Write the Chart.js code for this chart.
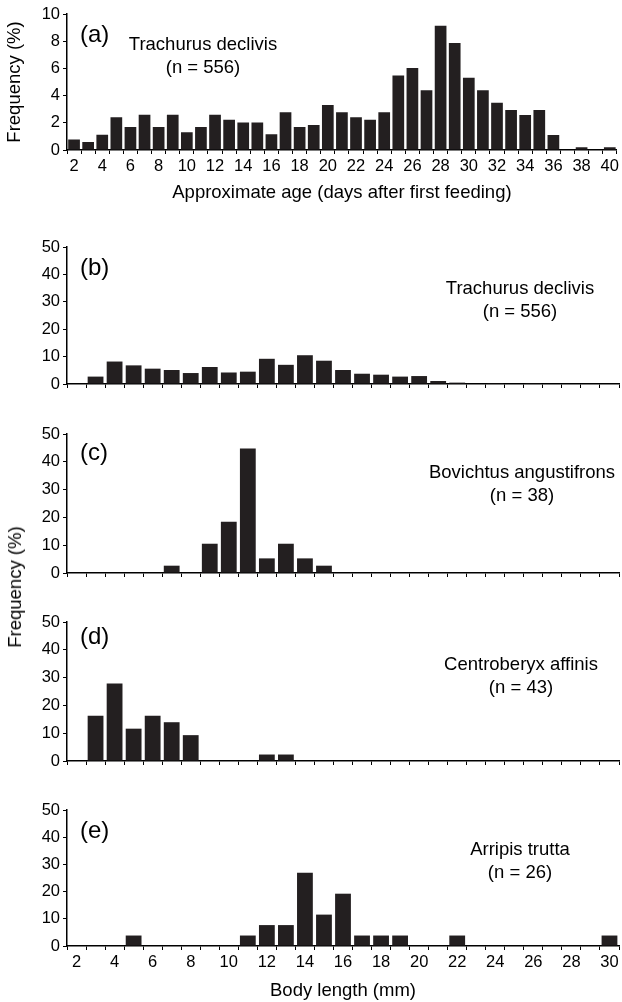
<!DOCTYPE html>
<html>
<head>
<meta charset="utf-8">
<script src="https://cdn.jsdelivr.net/npm/chart.js@4.4.1/dist/chart.umd.min.js"></script>
<style>
    body { margin: 0; background: #fff; }
    #marco { position: relative; width: 622px; height: 1002px; }
    canvas { position: absolute; left: 0; }
    #tituloFrecuencia {
        position: absolute; left: 15px; top: 587px;
        transform: translate(-50%, -50%) rotate(-90deg);
        font: 18.5px "Liberation Sans", Arial, sans-serif;
        white-space: nowrap; color: #000;
    }
</style>
</head>
<body>
<div id="marco">
    <canvas id="panelA" width="622" height="210" style="top:0px"></canvas>
    <canvas id="panelB" width="622" height="168" style="top:232px"></canvas>
    <canvas id="panelC" width="622" height="170" style="top:419px"></canvas>
    <canvas id="panelD" width="622" height="170" style="top:607px"></canvas>
    <canvas id="panelE" width="622" height="207" style="top:795px"></canvas>
    <div id="tituloFrecuencia">Frequency (%)</div>
</div>

<script>
// (a) edad aproximada, dias despues de la primera alimentacion
const edades = ["2", "3", "4", "5", "6", "7", "8", "9", "10", "11", "12", "13", "14", "15", "16", "17", "18", "19", "20", "21",
    "22", "23", "24", "25", "26", "27", "28", "29", "30", "31", "32", "33", "34", "35", "36", "37", "38", "39", "40"];
const frecEdadTrachurus = [0.78, 0.59, 1.13, 2.4, 1.69, 2.6, 1.69, 2.6, 1.3, 1.69, 2.6, 2.23, 2.03, 2.03, 1.15, 2.77, 1.69, 1.84, 3.3, 2.77,
    2.4, 2.23, 2.77, 5.47, 6.03, 4.39, 9.14, 7.87, 5.32, 4.39, 3.48, 2.94, 2.57, 2.94, 1.1, 0, 0.2, 0, 0.2];

// (b)-(e) longitud corporal (mm)
const longitudes = ["2", "3", "4", "5", "6", "7", "8", "9", "10", "11", "12", "13", "14", "15", "16",
    "17", "18", "19", "20", "21", "22", "23", "24", "25", "26", "27", "28", "29", "30"];
const frecTrachurus = [0, 2.7, 8.2, 6.8, 5.6, 5.1, 4.0, 6.2, 4.2, 4.5, 9.2, 7.0, 10.5, 8.5, 5.1,
    3.75, 3.4, 2.7, 2.9, 1.1, 0.5, 0, 0.3, 0, 0.3, 0, 0, 0, 0];
const frecBovichtus = [0, 0, 0, 0, 0, 2.63, 0, 10.53, 18.42, 44.74, 5.26, 10.53, 5.26, 2.63, 0,
    0, 0, 0, 0, 0, 0, 0, 0, 0, 0, 0, 0, 0, 0];
const frecCentroberyx = [0, 16.28, 27.91, 11.63, 16.28, 13.95, 9.30, 0, 0, 0, 2.33, 2.33, 0, 0, 0,
    0, 0, 0, 0, 0, 0, 0, 0, 0, 0, 0, 0, 0, 0];
const frecArripis = [0, 0, 0, 3.85, 0, 0, 0, 0, 0, 3.85, 7.69, 7.69, 26.92, 11.54, 19.23,
    3.85, 3.85, 3.85, 0, 0, 3.85, 0, 0, 0, 0, 0, 0, 0, 3.85];

const FUENTE = '"Liberation Sans", Arial, sans-serif';
const NEGRO = "#000";
const BARRA = "#231f20";

Chart.defaults.font.family = FUENTE;
Chart.defaults.color = NEGRO;

// letra del panel y nombre de la especie
const textoPanel = {
    id: "textoPanel",
    afterDraw(chart, args, opts) {
        const ctx = chart.ctx;
        ctx.save();
        ctx.fillStyle = NEGRO;
        ctx.font = "24px " + FUENTE;
        ctx.textAlign = "left";
        ctx.textBaseline = "middle";
        ctx.fillText(opts.letra, 80, opts.letraY);
        ctx.font = "18.5px " + FUENTE;
        ctx.textAlign = "center";
        ctx.textBaseline = "alphabetic";
        opts.lineas.forEach((t, i) => ctx.fillText(t, opts.textoX, opts.textoY + i * 23));
        ctx.restore();
    }
};

function etiquetaPar(valor) {
    const l = this.getLabelForValue(valor);
    return Number(l) % 2 === 0 ? l : "";
}

function crearPanel(id, etiquetas, valores, conf) {

    const ctx = document.getElementById(id).getContext("2d");

    return new Chart(ctx, {
        type: "bar",
        data: {
            labels: etiquetas,
            datasets: [{
                data: valores,
                backgroundColor: BARRA,
                borderWidth: 0,
                barPercentage: 0.83,
                categoryPercentage: 1
            }]
        },
        plugins: [textoPanel],
        options: {
            responsive: false,
            animation: false,
            devicePixelRatio: 1,
            layout: { padding: { top: conf.arriba, right: 3, left: 0, bottom: 0 } },
            plugins: {
                legend: { display: false },
                tooltip: { enabled: false },
                textoPanel: conf.texto
            },
            scales: {
                x: {
                    offset: true,
                    grid: {
                        offset: true,
                        drawOnChartArea: false,
                        drawTicks: true,
                        tickLength: 4,
                        color: NEGRO
                    },
                    border: { display: true, color: NEGRO, width: 1.5 },
                    ticks: {
                        display: conf.etiquetasX,
                        autoSkip: false,
                        maxRotation: 0,
                        minRotation: 0,
                        padding: 3,
                        color: NEGRO,
                        font: { size: 16.5 },
                        callback: etiquetaPar
                    },
                    title: {
                        display: !!conf.tituloX,
                        text: conf.tituloX || "",
                        color: NEGRO,
                        font: { size: 18.5 },
                        padding: { top: 0, bottom: conf.tituloXAbajo || 0 }
                    },
                    afterFit: s => { s.height = conf.altoEjeX; }
                },
                y: {
                    min: 0,
                    max: conf.maxY,
                    ticks: {
                        stepSize: conf.paso,
                        padding: 3,
                        color: NEGRO,
                        font: { size: 16.5 }
                    },
                    grid: {
                        drawOnChartArea: false,
                        drawTicks: true,
                        tickLength: 4,
                        color: NEGRO
                    },
                    border: { display: true, color: NEGRO, width: 1.5 },
                    title: {
                        display: !!conf.tituloY,
                        text: conf.tituloY || "",
                        color: NEGRO,
                        font: { size: 18.5 },
                        padding: { top: 4, bottom: 0 }
                    },
                    afterFit: s => { s.width = 67; }
                }
            }
        }
    });
}

document.addEventListener("DOMContentLoaded", () => {

    crearPanel("panelA", edades, frecEdadTrachurus, {
        arriba: 14, altoEjeX: 60, maxY: 10, paso: 2, etiquetasX: true,
        tituloX: "Approximate age (days after first feeding)", tituloXAbajo: 6,
        tituloY: "Frequency (%)",
        texto: { letra: "(a)", letraY: 35, lineas: ["Trachurus declivis", "(n = 556)"], textoX: 203, textoY: 50 }
    });

    crearPanel("panelB", longitudes, frecTrachurus, {
        arriba: 15, altoEjeX: 16, maxY: 50, paso: 10, etiquetasX: false,
        texto: { letra: "(b)", letraY: 36, lineas: ["Trachurus declivis", "(n = 556)"], textoX: 520, textoY: 62 }
    });

    crearPanel("panelC", longitudes, frecBovichtus, {
        arriba: 15, altoEjeX: 16, maxY: 50, paso: 10, etiquetasX: false,
        texto: { letra: "(c)", letraY: 34, lineas: ["Bovichtus angustifrons", "(n = 38)"], textoX: 522, textoY: 59 }
    });

    crearPanel("panelD", longitudes, frecCentroberyx, {
        arriba: 15, altoEjeX: 16, maxY: 50, paso: 10, etiquetasX: false,
        texto: { letra: "(d)", letraY: 30, lineas: ["Centroberyx affinis", "(n = 43)"], textoX: 521, textoY: 63 }
    });

    crearPanel("panelE", longitudes, frecArripis, {
        arriba: 15, altoEjeX: 56, maxY: 50, paso: 10, etiquetasX: true,
        tituloX: "Body length (mm)", tituloXAbajo: 0,
        texto: { letra: "(e)", letraY: 36, lineas: ["Arripis trutta", "(n = 26)"], textoX: 520, textoY: 60 }
    });
});
</script>
</body>
</html>
